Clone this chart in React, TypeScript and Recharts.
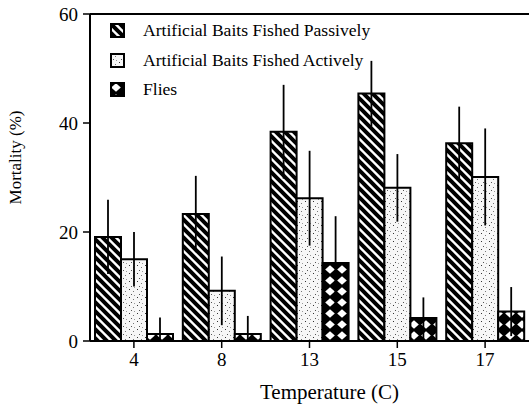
import { BarChart, Bar, XAxis, YAxis, ErrorBar, ReferenceLine, Legend } from "recharts";

const temperatures = ["4", "8", "13", "15", "17"];
const passive = [19.1, 23.3, 38.4, 45.4, 36.3];
const passiveErr = [6.8, 7, 8.6, 6, 6.7];
const active = [15, 9.2, 26.2, 28.1, 30.1];
const activeErr = [5, 6.3, 8.7, 6.2, 8.9];
const flies = [1.3, 1.3, 14.3, 4.2, 5.4];
const fliesErr = [3, 3.3, 8.6, 3.8, 4.5];
const yTicks = [0, 20, 40, 60];

const seriesNames = ["Artificial Baits Fished Passively", "Artificial Baits Fished Actively", "Flies"];
const seriesFills = ["url(#hatch)", "url(#stipple)", "url(#diamond)"];

// lower error arm stops at zero
const errPair = (v: number, e: number) => [Math.min(v, e), e];

const data = temperatures.map((t, i) => ({
  temp: t,
  passive: passive[i],
  passiveErr: errPair(passive[i], passiveErr[i]),
  active: active[i],
  activeErr: errPair(active[i], activeErr[i]),
  flies: flies[i],
  fliesErr: errPair(flies[i], fliesErr[i]),
}));

const FONT = '"Liberation Serif", "Times New Roman", serif';

function LegendBox() {
  return (
    <div style={{ fontFamily: FONT, fontSize: 17.6, color: "#000" }}>
      {seriesNames.map((name, i) => (
        <div key={name} style={{ display: "flex", alignItems: "center", height: 29.5 }}>
          <svg width={15} height={15} style={{ marginRight: 18 }}>
            <rect x={1} y={1} width={13} height={13} fill={seriesFills[i]} stroke="#000" strokeWidth={2} />
          </svg>
          <span>{name}</span>
        </div>
      ))}
    </div>
  );
}

function YLabel({ viewBox }: any) {
  const { x, y, height } = viewBox;
  return (
    <text
      transform={`translate(${x + 21},${y + height / 2 - 20}) rotate(-90)`}
      textAnchor="middle"
      fontFamily={FONT}
      fontSize={17}
      fill="#000"
    >
      Mortality (%)
    </text>
  );
}

function XLabel({ viewBox }: any) {
  const { x, y, width } = viewBox;
  return (
    <text x={x + width / 2 + 20} y={y + 58} textAnchor="middle" fontFamily={FONT} fontSize={21} fill="#000">
      Temperature (C)
    </text>
  );
}

export default function App() {
  return (
    <div style={{ position: "absolute", left: 0, top: 0, width: 529, height: 408, background: "#fff" }}>
      <BarChart
        width={529}
        height={408}
        data={data}
        margin={{ top: 14, right: 0, left: 0, bottom: 0 }}
        barGap={0}
      >
        <defs>
          <pattern id="hatch" patternUnits="userSpaceOnUse" width={9} height={9}>
            <rect width={9} height={9} fill="#fff" />
            <path d="M-2,-2 L11,11 M-2,7 L2,11 M7,-2 L11,2" stroke="#000" strokeWidth={4} />
          </pattern>
          <pattern id="stipple" patternUnits="userSpaceOnUse" width={8} height={8}>
            <rect width={8} height={8} fill="#f7f7f7" />
            <rect x={1} y={1} width={1} height={1} fill="#333" />
            <rect x={5} y={3} width={1} height={1} fill="#777" />
            <rect x={3} y={6} width={1} height={1} fill="#555" />
            <rect x={6} y={7} width={1} height={1} fill="#999" />
          </pattern>
          <pattern id="diamond" patternUnits="userSpaceOnUse" width={12} height={11}>
            <rect width={12} height={11} fill="#000" />
            <path d="M6,1.3 L10.8,5.5 L6,9.7 L1.2,5.5 Z" fill="#fff" />
          </pattern>
        </defs>
        <XAxis
          dataKey="temp"
          height={67}
          tickSize={7}
          tickMargin={5}
          axisLine={{ stroke: "#000", strokeWidth: 2 }}
          tickLine={{ stroke: "#000", strokeWidth: 1.5 }}
          tick={{ fill: "#000", fontSize: 19, fontFamily: FONT }}
          label={<XLabel />}
        />
        <YAxis
          width={90}
          domain={[0, 60]}
          ticks={yTicks}
          tickSize={7}
          tickMargin={5}
          axisLine={{ stroke: "#000", strokeWidth: 2 }}
          tickLine={{ stroke: "#000", strokeWidth: 1.5 }}
          tick={{ fill: "#000", fontSize: 19, fontFamily: FONT }}
          label={<YLabel />}
        />
        <ReferenceLine y={60} stroke="#000" strokeWidth={2} />
        <Legend
          layout="vertical"
          align="center"
          verticalAlign="middle"
          wrapperStyle={{ top: 16, left: 110 }}
          content={() => <LegendBox />}
        />
        <Bar dataKey="passive" fill={seriesFills[0]} stroke="#000" strokeWidth={2} barSize={26} isAnimationActive={false}>
          <ErrorBar dataKey="passiveErr" width={0} stroke="#000" strokeWidth={1.8} direction="y" />
        </Bar>
        <Bar dataKey="active" fill={seriesFills[1]} stroke="#000" strokeWidth={2} barSize={26} isAnimationActive={false}>
          <ErrorBar dataKey="activeErr" width={0} stroke="#000" strokeWidth={1.8} direction="y" />
        </Bar>
        <Bar dataKey="flies" fill={seriesFills[2]} stroke="#000" strokeWidth={2} barSize={26} isAnimationActive={false}>
          <ErrorBar dataKey="fliesErr" width={0} stroke="#000" strokeWidth={1.8} direction="y" />
        </Bar>
      </BarChart>
    </div>
  );
}
